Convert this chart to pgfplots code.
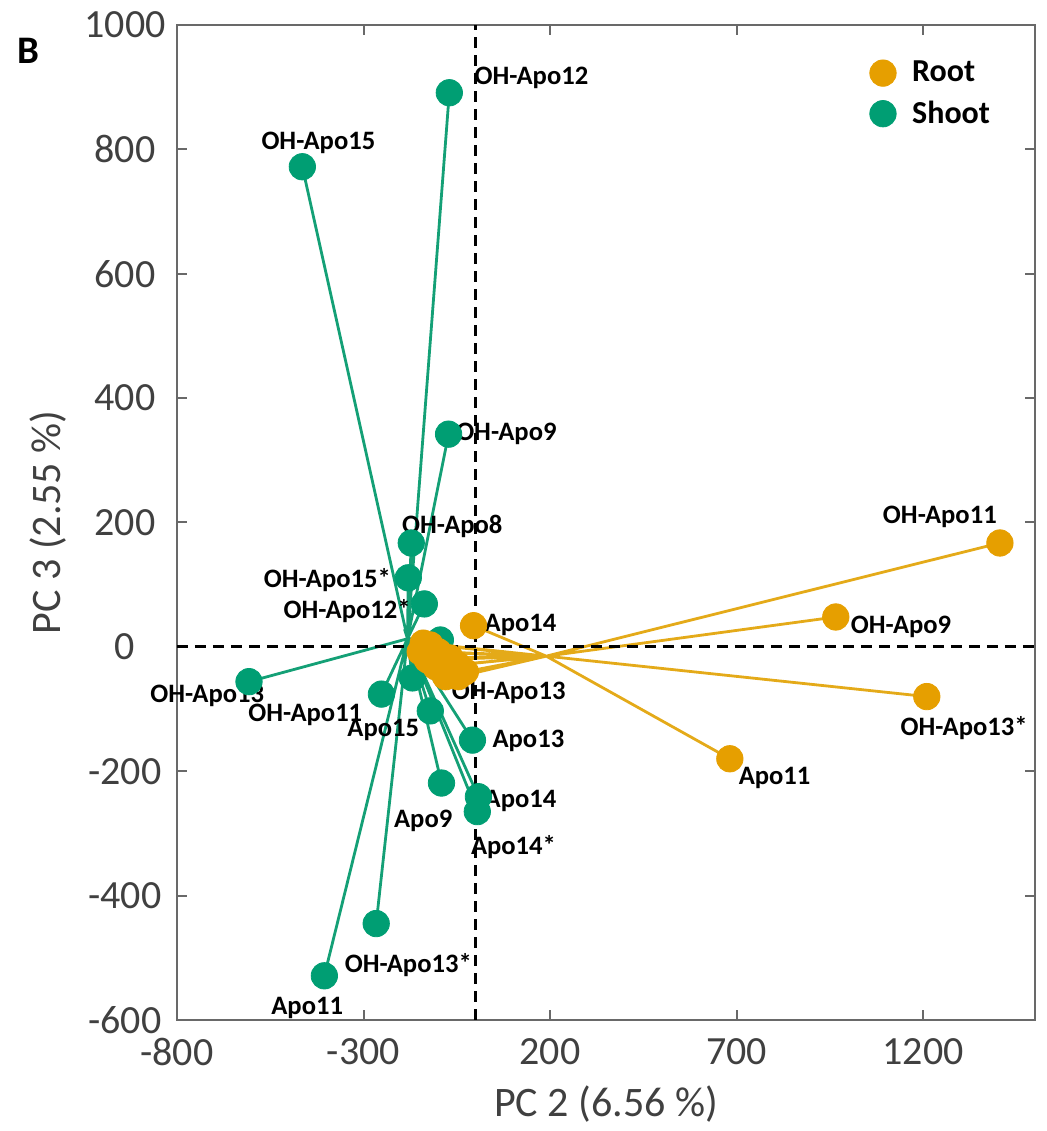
\documentclass[border=0pt]{standalone}
\usepackage{pgfplots}
\pgfplotsset{compat=1.18}
\usepackage{fontspec}
\setmainfont{Carlito}
\definecolor{shoot}{RGB}{0,158,115}
\definecolor{shootline}{RGB}{20,160,118}
\definecolor{root}{RGB}{230,159,0}
\definecolor{rootline}{RGB}{228,170,25}
\definecolor{tickgray}{RGB}{64,64,64}
\definecolor{axgray}{RGB}{105,105,105}
\begin{document}
\begin{tikzpicture}
\begin{axis}[
  scale only axis, width=429pt, height=497.5pt,
  xmin=-800, xmax=1500, ymin=-600, ymax=1000,
  xtick={-800,-300,200,700,1200},
  ytick={-600,-400,...,1000},
  tick align=inside, major tick length=5pt,
  axis line style={axgray, line width=1pt},
  tick style={axgray, line width=1pt},
  /pgf/number format/assume math mode=true,
  /pgf/number format/1000 sep={},
  ticklabel style={font=\fontsize{20}{24}\selectfont, text=tickgray},
  xticklabel style={anchor=center, yshift=-16pt},
  yticklabel style={anchor=center, xshift=-26pt},
  xlabel={PC 2 (6.56 \%)}, ylabel={PC 3 (2.55 \%)},
  label style={font=\fontsize{21}{25}\selectfont, text=tickgray},
  xlabel style={at={(rel axis cs:0.5,-0.0844)}, anchor=center},
  ylabel style={at={(rel axis cs:-0.150,0.5)}, anchor=center},
  clip=false,
  reverse legend,
  legend cell align=left,
  legend style={at={(rel axis cs:0.80,0.972)}, anchor=north west, draw=none, fill=none,
    font=\bfseries\fontsize{16}{19}\selectfont, row sep=4pt, column sep=6pt},
  legend image code/.code={\draw[#1] plot coordinates {(0.2cm,0cm)};},
]
% Shoot: lines from centroid
\addplot[shootline, line width=1.4pt, forget plot] coordinates {
(-182,13) (-70,891) (-182,13) (-464,772) (-182,13) (-72,342) (-182,13) (-172,167)
(-182,13) (-180,111) (-182,13) (-137,69) (-182,13) (-94,11) (-182,13) (-607,-56)
(-182,13) (-252,-76) (-182,13) (-169,-50) (-182,13) (-121,-103) (-182,13) (-8,-150)
(-182,13) (-91,-219) (-182,13) (8,-241) (-182,13) (5,-265) (-182,13) (-266,-445)
(-182,13) (-405,-529)
};
% Root: lines from centroid
\addplot[rootline, line width=1.4pt, forget plot] coordinates {
(190,-15) (1406,167) (190,-15) (966,48) (190,-15) (1210,-80) (190,-15) (682,-180)
(190,-15) (-5,34) (190,-15) (-46,-48) (190,-15) (-121,3) (190,-15) (-148,-8)
(190,-15) (-99,-8) (190,-15) (-67,-18) (190,-15) (-107,-32) (190,-15) (-80,-48)
(190,-15) (-48,-29) (190,-15) (-129,-21) (190,-15) (-89,-18) (190,-15) (-27,-40)
(190,-15) (-140,6)
};
% reference lines
\addplot[black, line width=1.5pt, dash pattern=on 5.5pt off 3.5pt, forget plot] coordinates {(0,-600) (0,1000)};
\addplot[black, line width=1.5pt, dash pattern=on 5.5pt off 3.5pt, forget plot] coordinates {(-800,0) (1500,0)};
% Shoot marks
\addplot[only marks, mark=*, mark size=6.6pt, mark options={fill=shoot, draw=shoot}] coordinates {
(-70,891) (-464,772) (-72,342) (-172,167) (-180,111) (-137,69) (-94,11) (-607,-56)
(-252,-76) (-169,-50) (-121,-103) (-8,-150) (-91,-219) (8,-241) (5,-265) (-266,-445)
(-405,-529)
};
\addlegendentry{Shoot}
% Root marks
\addplot[only marks, mark=*, mark size=6.6pt, mark options={fill=root, draw=root}] coordinates {
(1406,167) (966,48) (1210,-80) (682,-180) (-5,34) (-46,-48) (-121,3) (-148,-8)
(-99,-8) (-67,-18) (-107,-32) (-80,-48) (-48,-29) (-129,-21) (-89,-18) (-27,-40)
(-140,6)
};
\addlegendentry{Root}
% point labels
\begin{scope}[every node/.style={font=\bfseries\fontsize{13.3}{16}\selectfont, anchor=center, inner sep=0pt}]
\node at (axis cs:150,915) {OH-Apo12};
\node at (axis cs:-421,810) {OH-Apo15};
\node at (axis cs:83,342) {OH-Apo9};
\node at (axis cs:-62,193) {OH-Apo8};
\node at (axis cs:-397,108) {OH-Apo15*};
\node at (axis cs:-344,58) {OH-Apo12*};
\node at (axis cs:-719,-79) {OH-Apo13};
\node at (axis cs:-456,-109) {OH-Apo11};
\node at (axis cs:-247,-133) {Apo15};
\node at (axis cs:142,-151) {Apo13};
\node at (axis cs:121,-248) {Apo14};
\node at (axis cs:-140,-280) {Apo9};
\node at (axis cs:102,-322) {Apo14*};
\node at (axis cs:-180,-511) {OH-Apo13*};
\node at (axis cs:-451,-580) {Apo11};
\node at (axis cs:1245,209) {OH-Apo11};
\node at (axis cs:1141,32) {OH-Apo9};
\node at (axis cs:1310,-130) {OH-Apo13*};
\node at (axis cs:802,-211) {Apo11};
\node at (axis cs:121,35) {Apo14};
\node at (axis cs:89,-74) {OH-Apo13};
\end{scope}
\node[font=\bfseries\fontsize{19.5}{22}\selectfont] at (rel axis cs:-0.1737,0.974) {B};
\coordinate (BL) at (rel axis cs:-0.2063,-0.1116);
\coordinate (TR) at (rel axis cs:1.0140,1.0251);
\end{axis}
\pgfresetboundingbox
\path (BL) rectangle (TR);
\end{tikzpicture}
\end{document}
